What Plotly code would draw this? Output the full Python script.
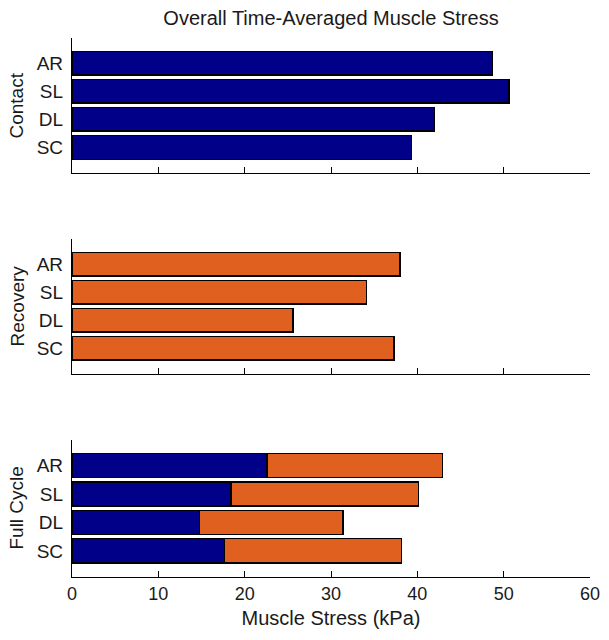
import plotly.graph_objects as go

subjects = ["AR", "SL", "DL", "SC"]
contact = [48.7, 50.6, 42.0, 39.3]
recovery = [38.0, 34.1, 25.6, 37.3]
full_contact = [22.6, 18.4, 14.8, 17.7]
full_recovery = [20.3, 21.7, 16.6, 20.5]
x_ticks = [0, 10, 20, 30, 40, 50, 60]
panel_titles = ["Contact", "Recovery", "Full Cycle"]

NAVY = "#000088"
ORANGE = "#E0601F"
FONT = "Liberation Sans, Arial, Helvetica, sans-serif"
TXT = "#1a1a1a"

ypos = list(range(len(subjects)))
line = dict(color="black", width=1.3)
bw = 0.85

W, H = 609, 640
L, R, T, B = 72, 19, 38, 63
PW = W - L - R

fig = go.Figure()
fig.add_trace(go.Bar(y=ypos, x=contact, orientation="h", marker=dict(color=NAVY, line=line),
                     width=bw, xaxis="x", yaxis="y", showlegend=False))
fig.add_trace(go.Bar(y=ypos, x=recovery, orientation="h", marker=dict(color=ORANGE, line=line),
                     width=bw, xaxis="x2", yaxis="y2", showlegend=False))
fig.add_trace(go.Bar(y=ypos, x=full_contact, orientation="h", marker=dict(color=NAVY, line=line),
                     width=bw, xaxis="x3", yaxis="y3", showlegend=False))
fig.add_trace(go.Bar(y=ypos, x=full_recovery, orientation="h", marker=dict(color=ORANGE, line=line),
                     width=bw, xaxis="x3", yaxis="y3", showlegend=False))

domains = [[0.7495, 1.0], [0.377, 0.627], [0.0, 0.254]]

common_x = dict(range=[0, 60], tickvals=x_ticks, ticks="inside", ticklen=6, tickwidth=1,
                tickcolor="black", showline=True, linecolor="black", linewidth=1.2,
                showgrid=False, zeroline=False, fixedrange=True, domain=[0, 1],
                tickfont=dict(family=FONT, size=18, color=TXT))
common_y = dict(range=[3.92, -0.9], tickvals=ypos, ticktext=subjects, ticks="",
                showline=True, linecolor="black", linewidth=1.2, showgrid=False,
                zeroline=False, ticklabelstandoff=4,
                tickfont=dict(family=FONT, size=19, color=TXT))

layout = dict(
    width=W, height=H,
    margin=dict(l=L, r=R, t=T, b=B, autoexpand=False),
    paper_bgcolor="white", plot_bgcolor="white",
    barmode="stack",
    font=dict(family=FONT, color=TXT),
    title=dict(text="Overall Time-Averaged Muscle Stress", x=(L + PW / 2) / W, xanchor="center",
               y=1 - 18 / H, yanchor="middle", font=dict(family=FONT, size=20, color=TXT)),
)
names = ["", "2", "3"]
for i, n in enumerate(names):
    xa = dict(common_x, anchor="y" + n)
    if i < 2:
        xa["showticklabels"] = False
    else:
        xa["title"] = dict(text="Muscle Stress (kPa)", font=dict(family=FONT, size=20, color=TXT),
                           standoff=8)
    ya = dict(common_y, anchor="x" + n, domain=domains[i])
    layout["xaxis" + n] = xa
    layout["yaxis" + n] = ya

annotations = []
for i, t in enumerate(panel_titles):
    annotations.append(dict(text=t, textangle=-90, xref="paper", yref="paper",
                            x=(17 - L) / PW, xanchor="center",
                            y=(domains[i][0] + domains[i][1]) / 2,
                            yanchor="middle", showarrow=False,
                            font=dict(family=FONT, size=19, color=TXT)))
layout["annotations"] = annotations

fig.update_layout(**layout)
fig.write_html("out.html", config={"displayModeBar": False},
               post_script="document.body.style.margin='0';")
